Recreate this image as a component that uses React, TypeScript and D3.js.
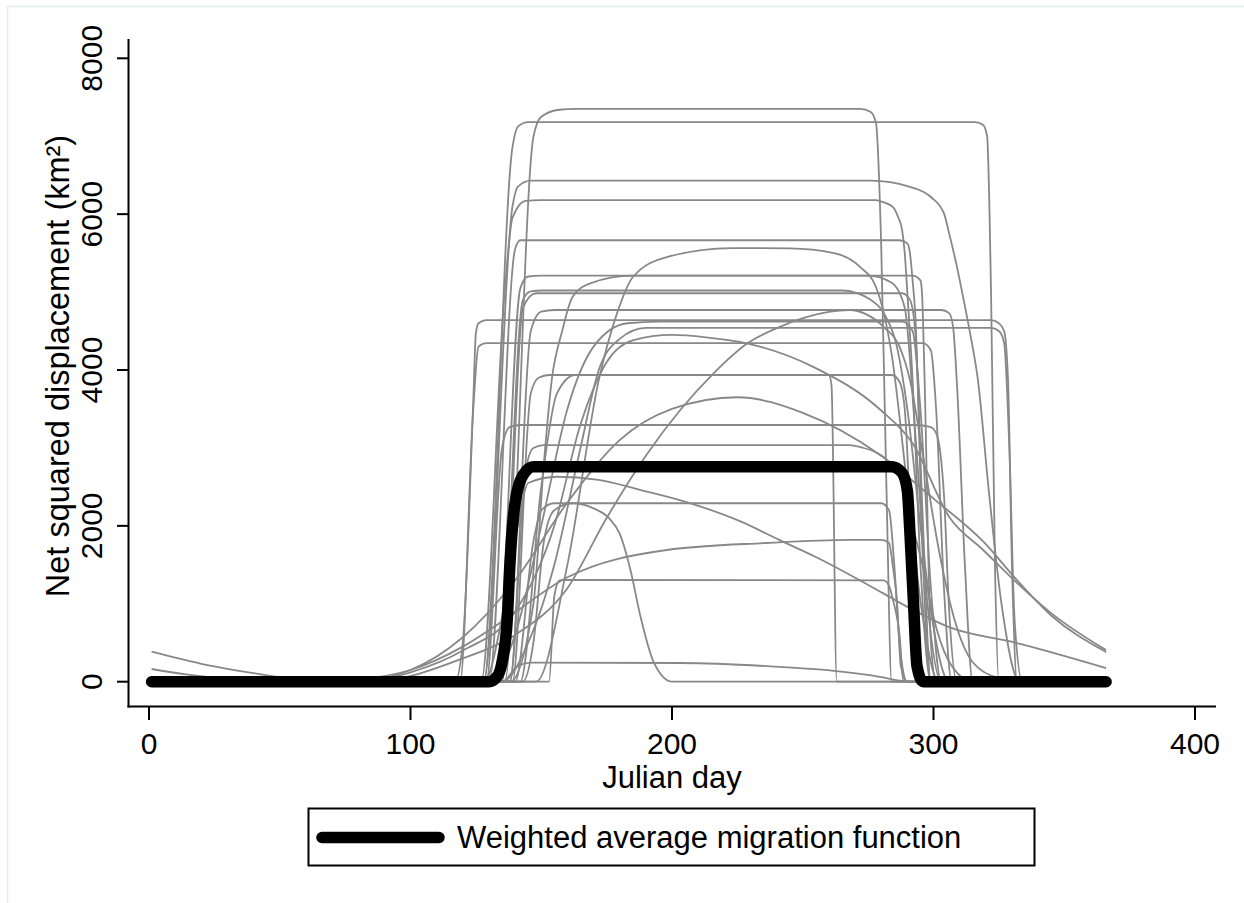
import React from "react";
import * as d3 from "d3";

type Pt = [number, number];

// x ticks (Julian day) and y ticks (km²)
const xTicks = [0, 100, 200, 300, 400];
const yTicks = [0, 2000, 4000, 6000, 8000];

// Individual migration functions: [Julian day, net squared displacement]
const nsd7350: Pt[] = [[0,0],[136,0],[147,6990],[150,7250],[157,7340],[163,7350],[272,7350],[276,7310],[278,7170],[280,5600],[282,2500],[284,0],[366,0]];
const nsd7180: Pt[] = [[0,0],[128,0],[139,6860],[141,7120],[145,7180],[316,7180],[319,7145],[320.5,7000],[322,5000],[323.5,1500],[325,0],[366,0]];
const nsd6430: Pt[] = [[0,0],[128,0],[139,6100],[141,6350],[146,6430],[276,6430],[291,6350],[299,6220],[304,6010],[306,5750],[309,5320],[311,4990],[314,4470],[317,3870],[321,2500],[326,1000],[333,0],[366,0]];
const nsd6180: Pt[] = [[0,0],[127,0],[136,5000],[139,5950],[144,6170],[150,6180],[278,6180],[281,6150],[284.5,6090],[286.5,5960],[288,5795],[289,5500],[290,4990],[292,3870],[295,1500],[299,0],[366,0]];
const nsd5665: Pt[] = [[0,0],[130,0],[140,5550],[142,5665],[287,5665],[290,5625],[291,5500],[292,5150],[293,4730],[296,1500],[299,0],[366,0]];
const nsdDome: Pt[] = [[0,0],[148,0],[160,1500],[172,3870],[179,4730],[185,5190],[198,5450],[223,5565],[245,5560],[262,5500],[272,5320],[278,5065],[284,4200],[290,2500],[296,800],[302,0],[366,0]];
const nsd5210a: Pt[] = [[0,0],[133,0],[142,5050],[145,5200],[150,5210],[292,5210],[295,5150],[295.6,4990],[296.5,4000],[299,500],[301,0],[366,0]];
const nsd5210b: Pt[] = [[0,0],[138,0],[147,1000],[151,2800],[154,3870],[158,4500],[162,4940],[169,5115],[185,5210],[275,5210],[284,5120],[289,4800],[293,3200],[298,900],[303,0],[366,0]];
const nsd5020: Pt[] = [[0,0],[134,0],[143,4900],[146,5010],[150,5020],[265,5020],[276,4900],[281,4730],[286,4300],[290,3500],[295,2000],[300,700],[306,0],[366,0]];
const nsd4985: Pt[] = [[0,0],[135,0],[143,4800],[148,4985],[288,4985],[291,4900],[293,4500],[296,2000],[299,0],[366,0]];
const nsd4770: Pt[] = [[0,0],[138,0],[146,4500],[150,4750],[155,4770],[303,4770],[306,4730],[307.5,4550],[309,3800],[312,1500],[315,0],[366,0]];
const nsd4640: Pt[] = [[0,0],[117,0],[120,500],[124,3600],[125,4470],[126,4600],[129,4640],[322,4640],[325,4600],[327,4500],[328.5,3870],[330,1500],[332,0],[366,0]];
const nsd4540: Pt[] = [[0,0],[135,0],[145,500],[155,1500],[165,3000],[172,4000],[180,4400],[190,4540],[322,4540],[325,4500],[327,4350],[329,3000],[331,800],[334,0],[366,0]];
const nsd4620: Pt[] = [[0,0],[130,0],[140,600],[150,2000],[160,3500],[170,4300],[183,4600],[195,4620],[288,4620],[292,4500],[295,3500],[299,1200],[303,0],[366,0]];
const nsd4345: Pt[] = [[0,0],[119,0],[124,3500],[126,4300],[129,4345],[296,4345],[299,4250],[301,3500],[304,1200],[307,0],[366,0]];
const nsd3936a: Pt[] = [[0,0],[139,0],[146,3700],[149,3900],[153,3936],[260,3936],[261,3800],[263,0],[366,0]];
const nsd3936b: Pt[] = [[0,0],[142,0],[150,2500],[156,3700],[163,3936],[284,3936],[287,3850],[289,3500],[292,1500],[296,0],[366,0]];
const nsd3294: Pt[] = [[0,0],[129,0],[135,3000],[138,3270],[142,3294],[293,3294],[298.7,3270],[301,3190],[302.5,2970],[304,2400],[306,900],[309,0],[366,0]];
const nsd3037: Pt[] = [[0,0],[138,0],[144,2700],[147,3000],[151,3037],[268,3037],[272,3010],[281,2880],[287,2630],[291,2115],[296,1470],[301,700],[307,200],[315,0],[366,0]];
const nsd2290: Pt[] = [[0,0],[140,0],[147,1800],[150,2200],[155,2290],[280,2290],[283,2200],[285,1500],[287,500],[290,0],[366,0]];
const nsdHump: Pt[] = [[0,0],[143,0],[147,500],[151,1800],[155,2200],[162,2290],[170,2225],[176,2095],[180,1900],[184,1450],[188,830],[193,250],[200,0],[366,0]];
const nsd1305: Pt[] = [[0,0],[153,0],[155,1100],[157,1300],[159,1305],[281,1300],[283,1230],[284.5,1050],[287,600],[288.5,0],[366,0]];
const nsd240: Pt[] = [[0,0],[135,0],[141,200],[146,245],[203,240],[241,190],[262,140],[280,60],[287,15],[292,0],[366,0]];
const nsdDecline: Pt[] = [[1,163],[15,90],[30,35],[45,5],[55,0],[128,0],[136,1000],[141,2000],[145,2550],[156,2630],[172,2590],[188,2460],[203,2330],[226,2060],[241,1820],[255,1600],[281,1130],[290,960],[306,700],[332,495],[366,175]];
const nsdBellA: Pt[] = [[1,385],[20,230],[40,110],[55,35],[68,0],[82,0],[100,120],[120,400],[140,900],[155,2000],[165,3300],[175,4100],[185,4380],[200,4450],[213,4420],[229,4340],[254,4040],[280,3480],[292,3060],[306,2115],[319,1690],[332,1265],[345,880],[366,405]];
const nsdBellB: Pt[] = [[0,0],[85,0],[120,300],[140,600],[160,1200],[175,2100],[190,2900],[203,3480],[216,3960],[229,4345],[241,4550],[260,4745],[268,4770],[274,4720],[281,4550],[287,4300],[291,3870],[296,2900],[302,1700],[308,800],[315,250],[325,50],[340,0],[366,0]];
const nsdBellC: Pt[] = [[0,0],[78,0],[100,150],[120,570],[140,1300],[160,2300],[180,3100],[200,3500],[225,3650],[250,3450],[280,2900],[300,2350],[319,1800],[332,1300],[345,850],[366,380]];
const nsd1820: Pt[] = [[0,0],[60,0],[80,30],[100,150],[120,450],[134,750],[160,1340],[198,1690],[236,1780],[268,1820],[280,1820],[283,1780],[284.5,1470],[286,1050],[287.5,200],[290,0],[366,0]];

const greyCurves: Pt[][] = [
  nsd7350, nsd7180, nsd6430, nsd6180, nsd5665, nsdDome, nsd5210a, nsd5210b,
  nsd5020, nsd4985, nsd4770, nsd4640, nsd4540, nsd4620, nsd4345, nsd3936a,
  nsd3936b, nsd3294, nsd3037, nsd2290, nsdHump, nsd1305, nsd240, nsdDecline,
  nsdBellA, nsdBellB, nsdBellC, nsd1820,
];

// Weighted average migration function
const weightedAverage: Pt[] = [[1,0],[130,0],[133,60],[135,250],[137,800],[138,1500],[140,2300],[143,2650],[147,2760],[284,2760],[288,2680],[290,2450],[291,1900],[292.3,1050],[293.7,200],[296,0],[366,0]];

const legendLabel = "Weighted average migration function";
const xTitle = "Julian day";
const yTitle = "Net squared displacement (km²)";

const FONT = "'Liberation Sans', Arial, Helvetica, sans-serif";

export default function App() {
  const x = d3.scaleLinear().domain([0, 400]).range([149, 1195]);
  const y = d3.scaleLinear().domain([0, 8000]).range([681.7, 58.3]);
  const line = d3
    .line<Pt>()
    .x((d) => x(d[0]))
    .y((d) => y(d[1]))
    .curve(d3.curveMonotoneX);

  const axisLeft = 128.5;
  const axisBottom = 706.5;

  return (
    <svg
      width={1244}
      height={903}
      style={{ position: "absolute", left: 0, top: 0, background: "#fff" }}
      fontFamily={FONT}
    >
      <rect x={7.5} y={6.5} width={1260} height={920} fill="#ffffff" stroke="#e4eef0" strokeWidth={1.5} />

      {/* grey individual curves */}
      <g fill="none" stroke="#888888" strokeWidth={1.8} strokeLinejoin="round">
        {greyCurves.map((c, i) => (
          <path key={i} d={line(c) || ""} />
        ))}
      </g>

      {/* weighted average */}
      <path
        d={line(weightedAverage) || ""}
        fill="none"
        stroke="#000"
        strokeWidth={11.5}
        strokeLinecap="round"
        strokeLinejoin="round"
      />

      {/* axes */}
      <line x1={axisLeft} y1={39} x2={axisLeft} y2={axisBottom + 1} stroke="#000" strokeWidth={2} />
      <line x1={axisLeft - 1} y1={axisBottom} x2={1216} y2={axisBottom} stroke="#000" strokeWidth={2} />

      {yTicks.map((t) => (
        <g key={"y" + t}>
          <line x1={117} x2={axisLeft} y1={y(t)} y2={y(t)} stroke="#000" strokeWidth={2} />
          <text
            transform={`translate(102,${y(t)}) rotate(-90)`}
            textAnchor="middle"
            fontSize={30}
            fill="#000"
          >
            {t}
          </text>
        </g>
      ))}

      {xTicks.map((t) => (
        <g key={"x" + t}>
          <line x1={x(t)} x2={x(t)} y1={axisBottom} y2={720} stroke="#000" strokeWidth={2} />
          <text x={x(t)} y={754} textAnchor="middle" fontSize={30} fill="#000">
            {t}
          </text>
        </g>
      ))}

      <text x={672} y={788} textAnchor="middle" fontSize={31} fill="#000">
        {xTitle}
      </text>
      <text
        transform={`translate(68.5,366) rotate(-90)`}
        textAnchor="middle"
        fontSize={32.5}
        fill="#000"
      >
        {yTitle}
      </text>

      {/* legend */}
      <rect x={308.5} y={808.5} width={726} height={57} fill="#fff" stroke="#000" strokeWidth={2} />
      <line x1={322} x2={439} y1={837.5} y2={837.5} stroke="#000" strokeWidth={11.5} strokeLinecap="round" />
      <text x={457} y={848} fontSize={31} fill="#000">
        {legendLabel}
      </text>
    </svg>
  );
}
